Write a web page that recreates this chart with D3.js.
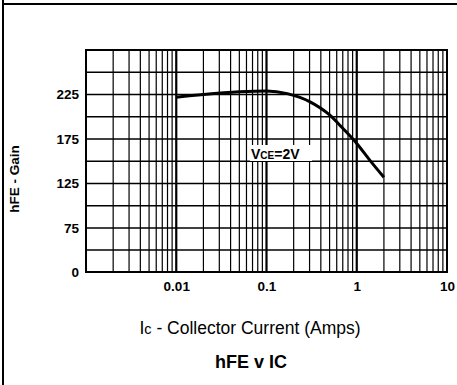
<!DOCTYPE html>
<html><head><meta charset="utf-8">
<script src="https://cdn.jsdelivr.net/npm/d3@7"></script>
<style>body{margin:0;background:#fff}svg{display:block}</style>
</head><body>
<svg id="c" width="457" height="385"></svg>
<script>
// Data
const currentA = [0.01, 0.02, 0.05, 0.1, 0.17, 0.3, 0.5, 0.7, 1.0, 1.4, 2.0];
const gainHFE  = [222, 225, 228, 229, 226, 217, 202, 187, 170, 151, 132];
const xTickValues = [0.01, 0.1, 1, 10];
const xTickLabels = ["0.01", "0.1", "1", "10"];
const yTickValues = [0, 75, 125, 175, 225];
const yTickLabels = ["0", "75", "125", "175", "225"];
const yGridValues = [0, 37.5, 75, 100, 125, 150, 175, 200, 225, 250, 275];
const curveLabel = "V";

const FONT = "Liberation Sans, Arial, Helvetica, sans-serif";
const svg = d3.select("#c");
const L = 86, R = 447, T = 50, B = 272;
const x = d3.scaleLog().domain([0.001, 10]).range([L, R]);
// broken axis: 0..75 occupies two grid divisions, then 25 per division
const y = d3.scaleLinear().domain([0, 75, 275]).range([B, 228, T]);

// outer border
svg.append("line").attr("x1",3).attr("x2",3).attr("y1",0).attr("y2",385).attr("stroke","#000").attr("stroke-width",2);
svg.append("line").attr("x1",3).attr("x2",457).attr("y1",4).attr("y2",4).attr("stroke","#000").attr("stroke-width",2);

// vertical grid
const vlines = [];
for (let e = -3; e < 1; e++) for (let m = 1; m <= 9; m++) vlines.push({v: m * Math.pow(10, e), major: m === 1});
svg.append("g").selectAll("line").data(vlines.filter(d => d.v > 0.001)).join("line")
  .attr("x1", d => x(d.v)).attr("x2", d => x(d.v)).attr("y1", T).attr("y2", B)
  .attr("stroke", "#000").attr("stroke-width", d => d.major ? 2.2 : 1.2);

// horizontal grid
svg.append("g").selectAll("line").data(yGridValues).join("line")
  .attr("x1", L).attr("x2", R).attr("y1", d => y(d)).attr("y2", d => y(d))
  .attr("stroke", "#000").attr("stroke-width", 1.4);

// frame
svg.append("rect").attr("x", L).attr("y", T).attr("width", R - L).attr("height", B - T)
  .attr("fill", "none").attr("stroke", "#000").attr("stroke-width", 2);

// axes
const xAxis = d3.axisBottom(x).tickValues(xTickValues).tickSize(0).tickPadding(9)
  .tickFormat((d, i) => xTickLabels[i]);
const gx = svg.append("g").attr("transform", `translate(0,${B})`).call(xAxis);
gx.select(".domain").remove();
gx.selectAll("text").attr("font-family", FONT).attr("font-weight", "bold").attr("font-size", 13.5).attr("fill", "#000");

const yAxis = d3.axisLeft(y).tickValues(yTickValues).tickSize(0).tickPadding(7)
  .tickFormat((d, i) => yTickLabels[i]);
const gy = svg.append("g").attr("transform", `translate(${L},0)`).call(yAxis);
gy.select(".domain").remove();
gy.selectAll("text").attr("font-family", FONT).attr("font-weight", "bold").attr("font-size", 13.5).attr("fill", "#000");

// curve
const line = d3.line().x(d => x(d[0])).y(d => y(d[1])).curve(d3.curveMonotoneX);
svg.append("path").datum(currentA.map((c, i) => [c, gainHFE[i]]))
  .attr("d", line).attr("fill", "none").attr("stroke", "#000").attr("stroke-width", 3);

// curve label with white box
svg.append("rect").attr("x", 250).attr("y", 145).attr("width", 62).attr("height", 16).attr("fill", "#fff");
const lab = svg.append("text").attr("x", 251).attr("y", 159)
  .attr("font-family", FONT).attr("font-weight", "bold").attr("font-size", 14).attr("fill", "#000");
lab.append("tspan").text(curveLabel);
lab.append("tspan").attr("font-size", 10).text("CE");
lab.append("tspan").text("=2V");

// axis labels
svg.append("text").attr("transform", "translate(19,179) rotate(-90)").attr("text-anchor", "middle")
  .attr("font-family", FONT).attr("font-weight", "bold").attr("font-size", 13.5).attr("fill", "#000")
  .text("hFE - Gain");

const xl = svg.append("text").attr("x", 250).attr("y", 334).attr("text-anchor", "middle")
  .attr("font-family", FONT).attr("font-size", 17.5).attr("fill", "#000");
xl.append("tspan").text("I");
xl.append("tspan").attr("font-size", 14.5).text("c");
xl.append("tspan").text(" - Collector Current (Amps)");

svg.append("text").attr("x", 251).attr("y", 368).attr("text-anchor", "middle")
  .attr("font-family", FONT).attr("font-weight", "bold").attr("font-size", 18).attr("fill", "#000")
  .text("hFE v IC");
</script>
</body></html>
